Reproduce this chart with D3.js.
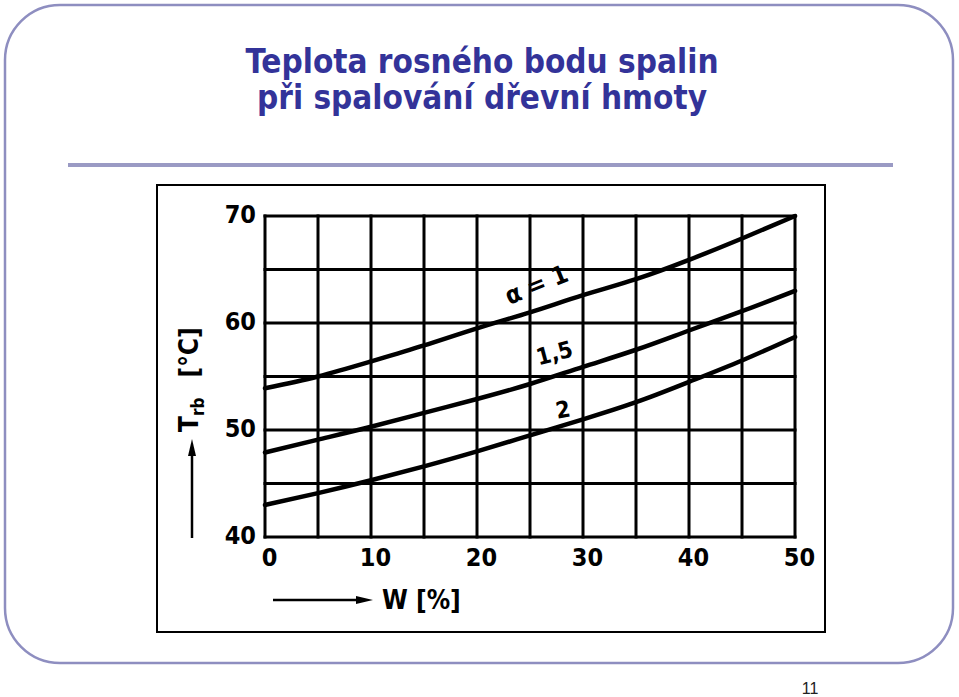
<!DOCTYPE html>
<html>
<head>
<meta charset="utf-8">
<script src="https://cdn.jsdelivr.net/npm/d3@7"></script>
<style>
  html, body { margin: 0; padding: 0; background: #fff; }
  svg { display: block; }
</style>
</head>
<body>
<div id="chart"></div>
<script>
// ---- data ----
const titleLines = ["Teplota rosného bodu spalin", "při spalování dřevní hmoty"];
const moisture = [0, 5, 10, 15, 20, 25, 30, 35, 40, 45, 50];          // W [%]
const tAlpha1  = [53.9, 55.0, 56.4, 57.9, 59.5, 61.0, 62.6, 64.1, 65.9, 67.9, 70.0];
const tAlpha15 = [47.9, 49.1, 50.3, 51.6, 52.9, 54.3, 55.9, 57.5, 59.3, 61.1, 63.0];
const tAlpha2  = [43.0, 44.1, 45.3, 46.6, 48.0, 49.5, 51.0, 52.6, 54.5, 56.5, 58.7];
const seriesLabels = ["\u03B1 = 1", "1,5", "2"];
const xTickLabels = [0, 10, 20, 30, 40, 50];
const yTickLabels = [40, 50, 60, 70];
const xGrid = [0, 5, 10, 15, 20, 25, 30, 35, 40, 45, 50];
const yGrid = [40, 45, 50, 55, 60, 65, 70];
const xTitle = "W [%]";
const yTitleMain = "T";
const yTitleSub = "rb";
const yTitleUnit = "[°C]";
const pageNumber = "11";

const W = 959, H = 697;
const svg = d3.select("#chart").append("svg").attr("width", W).attr("height", H);
svg.append("rect").attr("width", W).attr("height", H).attr("fill", "#fff");

// slide frame
const fx0 = 5, fy0 = 5, fx1 = 953, fy1 = 663, r = 55;
svg.append("rect").attr("x", fx0).attr("y", fy0).attr("width", fx1 - fx0).attr("height", fy1 - fy0)
  .attr("rx", r).attr("ry", r).attr("fill", "none").attr("stroke", "#8e8ec0").attr("stroke-width", 2.5);

// title
const title = svg.append("text").attr("text-anchor", "middle")
  .attr("font-family", "'DejaVu Sans Condensed', 'DejaVu Sans', sans-serif")
  .attr("font-weight", "bold").attr("font-size", 33).attr("fill", "#333399");
titleLines.forEach((t, i) => title.append("tspan").attr("x", 482).attr("y", 73 + i * 36).text(t));

// rule
svg.append("line").attr("x1", 68).attr("x2", 893).attr("y1", 165).attr("y2", 165)
  .attr("stroke", "#9a9ac4").attr("stroke-width", 4);

// page number
svg.append("text").attr("x", 810).attr("y", 694).attr("text-anchor", "middle")
  .attr("font-family", "'Liberation Sans', Arial, sans-serif").attr("font-size", 16)
  .attr("fill", "#222").text(pageNumber);

// chart frame
svg.append("rect").attr("x", 157).attr("y", 185).attr("width", 668).attr("height", 447)
  .attr("fill", "none").attr("stroke", "#000").attr("stroke-width", 2);

// scales
const x = d3.scaleLinear().domain([0, 50]).range([265, 795]);
const y = d3.scaleLinear().domain([40, 70]).range([537, 216]);

const plotFont = "'DejaVu Sans Condensed', sans-serif";

// grid
const g = svg.append("g");
g.selectAll("line.v").data(xGrid).join("line")
  .attr("x1", d => x(d)).attr("x2", d => x(d)).attr("y1", y(70)).attr("y2", y(40))
  .attr("stroke", "#000").attr("stroke-width", 3).attr("stroke-linecap", "square");
g.selectAll("line.h").data(yGrid).join("line")
  .attr("y1", d => y(d)).attr("y2", d => y(d)).attr("x1", x(0)).attr("x2", x(50))
  .attr("stroke", "#000").attr("stroke-width", 3).attr("stroke-linecap", "square");

// axes labels via d3 axes (styled without domain/ticks)
const xAxis = svg.append("g").attr("transform", `translate(4, ${y(40) + 8})`)
  .call(d3.axisBottom(x).tickValues(xTickLabels).tickSize(0).tickFormat(d3.format("d")));
const yAxis = svg.append("g").attr("transform", `translate(${x(0) - 6}, -2)`)
  .call(d3.axisLeft(y).tickValues(yTickLabels).tickSize(0).tickFormat(d3.format("d")));
[xAxis, yAxis].forEach(a => {
  a.select(".domain").remove();
  a.selectAll("text").attr("font-family", plotFont).attr("font-weight", "bold")
    .attr("font-size", 25).attr("fill", "#000");
});
xAxis.selectAll("text").attr("dy", "0.71em");

// curves
const line = d3.line().x((d, i) => x(moisture[i])).y(d => y(d)).curve(d3.curveNatural);
[tAlpha1, tAlpha15, tAlpha2].forEach(s => {
  svg.append("path").attr("d", line(s)).attr("fill", "none").attr("stroke", "#000")
    .attr("stroke-width", 4.5).attr("stroke-linecap", "round");
});

// series labels
const labelPos = [
  { w: 25.6, v: 63.6, rot: -22, fs: 25 },
  { w: 27.3, v: 57.2, rot: -15, fs: 23 },
  { w: 28.1, v: 51.9, rot: -10, fs: 23 }
];
seriesLabels.forEach((t, i) => {
  const p = labelPos[i];
  svg.append("text").attr("transform", `translate(${x(p.w)},${y(p.v)}) rotate(${p.rot})`)
    .attr("text-anchor", "middle").attr("dy", "0.35em")
    .attr("font-family", plotFont).attr("font-weight", "bold").attr("font-size", p.fs)
    .attr("fill", "#000").text(t);
});

// x title with arrow
const arrowY = 600;
svg.append("line").attr("x1", 273).attr("x2", 360).attr("y1", arrowY).attr("y2", arrowY)
  .attr("stroke", "#000").attr("stroke-width", 2.5);
svg.append("path").attr("d", `M356,${arrowY - 4} L373,${arrowY} L356,${arrowY + 4} Z`).attr("fill", "#000");
svg.append("text").attr("x", 382).attr("y", arrowY).attr("dy", "0.35em")
  .attr("font-family", plotFont).attr("font-weight", "bold").attr("font-size", 26)
  .attr("fill", "#000").text(xTitle);

// y title with arrow
const arrowX = 192;
svg.append("line").attr("x1", arrowX).attr("x2", arrowX).attr("y1", 538).attr("y2", 452)
  .attr("stroke", "#000").attr("stroke-width", 2.5);
svg.append("path").attr("d", `M${arrowX - 4},456 L${arrowX},439 L${arrowX + 4},456 Z`).attr("fill", "#000");
const yt = svg.append("text").attr("transform", `translate(${arrowX + 6},432) rotate(-90)`)
  .attr("font-family", plotFont).attr("font-weight", "bold").attr("font-size", 26).attr("fill", "#000");
yt.append("tspan").text(yTitleMain);
yt.append("tspan").attr("font-size", 17).attr("dy", 6).text(yTitleSub);
yt.append("tspan").attr("dy", -6).attr("dx", 20).text(yTitleUnit);
</script>
</body>
</html>
